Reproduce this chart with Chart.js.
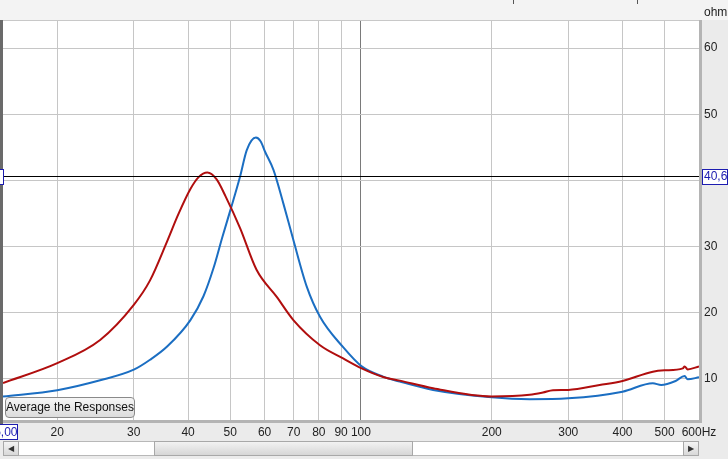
<!DOCTYPE html>
<html>
<head>
<meta charset="utf-8">
<script src="https://cdn.jsdelivr.net/npm/chart.js@4"></script>
<style>
  html, body { margin: 0; padding: 0; background: #ebebeb; }
  #wrap { position: relative; width: 728px; height: 459px; overflow: hidden; }
  canvas { position: absolute; left: 0; top: 0; }
  #avg-btn {
    position: absolute; left: 5px; top: 397px; width: 130px; height: 21px;
    border: 1px solid #8a8a8a; border-radius: 4px; box-sizing: border-box;
    background: linear-gradient(#f6f6f6, #dcdcdc);
    font: 12px "Liberation Sans", Arial, sans-serif; color: #111;
    text-align: center; line-height: 19px;
  }
  .sb { position: absolute; top: 441px; height: 15px; box-sizing: border-box; }
  .arrow { background: linear-gradient(#f4f4f4, #d8d8d8); border: 1px solid #a8a8a8; font: 8px sans-serif; color: #333; text-align: center; line-height: 13px; }
  .track { background: #fff; border-top: 1px solid #b8b8b8; border-bottom: 1px solid #b8b8b8; }
  .thumb { background: linear-gradient(#f2f2f2, #d6d6d6); border: 1px solid #a8a8a8; }
</style>
</head>
<body>
<div id="wrap">
  <canvas id="chart" width="728" height="459"></canvas>
  <div id="avg-btn">Average the Responses</div>
  <div class="sb arrow" style="left:3px;width:16px;">&#9664;</div>
  <div class="sb track" style="left:19px;width:136px;"></div>
  <div class="sb thumb" style="left:154px;width:259px;"></div>
  <div class="sb track" style="left:413px;width:270px;"></div>
  <div class="sb arrow" style="left:683px;width:16px;">&#9654;</div>
</div>
<script>
// impedance curves (Hz / ohm)
const redFreq = [15, 20, 25.1, 30, 32.7, 35.8, 38, 40.5, 42.3, 44.3, 46.5, 48.8, 52.7, 57.5, 64, 69.9, 80.5, 91, 100.4, 112.5, 122.9, 146.6, 200, 244.6, 262.4, 276.7, 300, 354.3, 400, 469.8, 500, 550.8, 556, 565, 600];
const redOhm  = [9.4, 12.4, 15.9, 21.2, 24.9, 30.8, 34.9, 38.7, 40.5, 41.2, 40.2, 37.6, 32.8, 26.5, 22.4, 18.9, 15.1, 13.1, 11.6, 10.3, 9.75, 8.6, 7.35, 7.6, 7.95, 8.3, 8.35, 9.1, 9.7, 11.1, 11.3, 11.6, 11.9, 11.45, 11.9];

const blueFreq = [15, 20, 25.1, 30, 32.7, 35.8, 40.5, 43.4, 45.8, 48, 50, 52.7, 54.6, 57.3, 58.8, 60.2, 62.9, 66.3, 69.9, 75, 80.5, 91, 100.4, 112.5, 122.9, 146.6, 200, 244.6, 300, 400, 469.8, 491, 530, 556, 565, 600];
const blueOhm  = [7.35, 8.3, 9.8, 11.4, 12.9, 14.9, 18.9, 22.5, 26.8, 31.5, 35.4, 40.6, 44.6, 46.5, 45.9, 44.3, 41.6, 36.5, 31.0, 24.0, 19.4, 14.8, 11.9, 10.35, 9.6, 8.35, 7.23, 6.95, 7.08, 8.08, 9.35, 9.1, 9.7, 10.45, 9.95, 10.25];

const xTicks = [20, 30, 40, 50, 60, 70, 80, 90, 100, 200, 300, 400, 500, 600];
const yTicks = [10, 20, 30, 40, 50, 60];
const cursorOhm = 40.6;
const cursorHz = "15,00";

const font = { family: '"Liberation Sans", Arial, sans-serif', size: 12 };

const toPoints = (fs, vs) => fs.map((f, i) => ({ x: f, y: vs[i] }));

const frame = {
  id: 'frame',
  beforeDraw(chart) {
    const { ctx, chartArea: a } = chart;
    ctx.save();
    ctx.fillStyle = '#ebebeb';
    ctx.fillRect(0, 0, chart.width, chart.height);
    // top strip
    ctx.fillStyle = '#f3f3f3';
    ctx.fillRect(0, 0, chart.width, a.top - 1);
    ctx.fillStyle = '#555';
    ctx.fillRect(513, 0, 1, 4);
    ctx.fillRect(637, 0, 1, 4);
    ctx.fillStyle = '#fff';
    ctx.fillRect(a.left, a.top, a.right - a.left, a.bottom - a.top);
    ctx.restore();
  },
  afterDraw(chart) {
    const { ctx, chartArea: a, scales } = chart;
    ctx.save();
    // plot border / shadow
    ctx.fillStyle = '#b4b4b4';
    ctx.fillRect(a.right, a.top - 1, 3, a.bottom - a.top + 4);
    ctx.fillRect(a.left, a.bottom, a.right - a.left + 3, 3);
    ctx.fillStyle = '#c8c8c8';
    ctx.fillRect(a.left, a.top - 1, a.right - a.left, 1);
    ctx.fillStyle = '#6a6a6a';
    ctx.fillRect(0, a.top - 1, a.left, a.bottom - a.top + 6);
    // cursor line
    const cy = Math.round(scales.y.getPixelForValue(cursorOhm)) + 0.5;
    ctx.strokeStyle = '#000';
    ctx.lineWidth = 1;
    ctx.beginPath();
    ctx.moveTo(a.left, cy);
    ctx.lineTo(a.right, cy);
    ctx.stroke();
    // cursor readouts
    ctx.font = '12px "Liberation Sans", Arial, sans-serif';
    ctx.textBaseline = 'middle';
    ctx.fillStyle = '#fff';
    ctx.fillRect(a.right + 3, cy - 7.5, 25, 15);
    ctx.strokeStyle = '#1c1cb0';
    ctx.strokeRect(a.right + 3.5, cy - 7, 25, 15);
    ctx.fillStyle = '#1c1cb0';
    ctx.textAlign = 'left';
    ctx.fillText(cursorOhm.toFixed(1).replace('.', ','), a.right + 5, cy + 0.5);
    ctx.fillStyle = '#fff';
    ctx.fillRect(-1, cy - 7, 4, 15);
    ctx.strokeRect(-1.5, cy - 7, 5, 15);
    ctx.fillStyle = '#fff';
    ctx.fillRect(-10, a.bottom + 4, 28, 15);
    ctx.strokeRect(-9.5, a.bottom + 4.5, 27, 15);
    ctx.fillStyle = '#1c1cb0';
    ctx.textAlign = 'right';
    ctx.fillText(cursorHz, 17.5, a.bottom + 12.5);
    // unit
    ctx.fillStyle = '#222';
    ctx.textAlign = 'left';
    ctx.fillText('ohm', a.right + 5, 13);
    ctx.restore();
  }
};

new Chart(document.getElementById('chart'), {
  type: 'line',
  data: {
    datasets: [
      { data: toPoints(redFreq, redOhm), borderColor: '#b00e0e', borderWidth: 2, pointRadius: 0, cubicInterpolationMode: 'monotone' },
      { data: toPoints(blueFreq, blueOhm), borderColor: '#1b6ec2', borderWidth: 2, pointRadius: 0, cubicInterpolationMode: 'monotone' }
    ]
  },
  options: {
    responsive: false,
    animation: false,
    layout: { padding: { top: 21, left: 3, right: 0, bottom: 0 } },
    plugins: { legend: { display: false }, tooltip: { enabled: false } },
    scales: {
      x: {
        type: 'logarithmic',
        min: 15,
        max: 600,
        afterBuildTicks: s => { s.ticks = xTicks.map(v => ({ value: v })); },
        afterFit: s => { s.height = 39; },
        grid: { drawTicks: false, color: c => c.tick && c.tick.value === 100 ? '#7a7a7a' : '#c6c6c6' },
        border: { display: false },
        ticks: {
          autoSkip: false, maxRotation: 0, padding: 5, color: '#222', font: font,
          callback: v => v === 600 ? '600Hz' : String(v)
        }
      },
      y: {
        position: 'right',
        min: 3.8,
        max: 64.1,
        afterBuildTicks: s => { s.ticks = yTicks.map(v => ({ value: v })); },
        afterFit: s => { s.width = 29; },
        grid: { drawTicks: false, color: '#c6c6c6' },
        border: { display: false },
        ticks: { padding: 5, color: '#222', font: font }
      }
    }
  },
  plugins: [frame]
});
</script>
</body>
</html>
